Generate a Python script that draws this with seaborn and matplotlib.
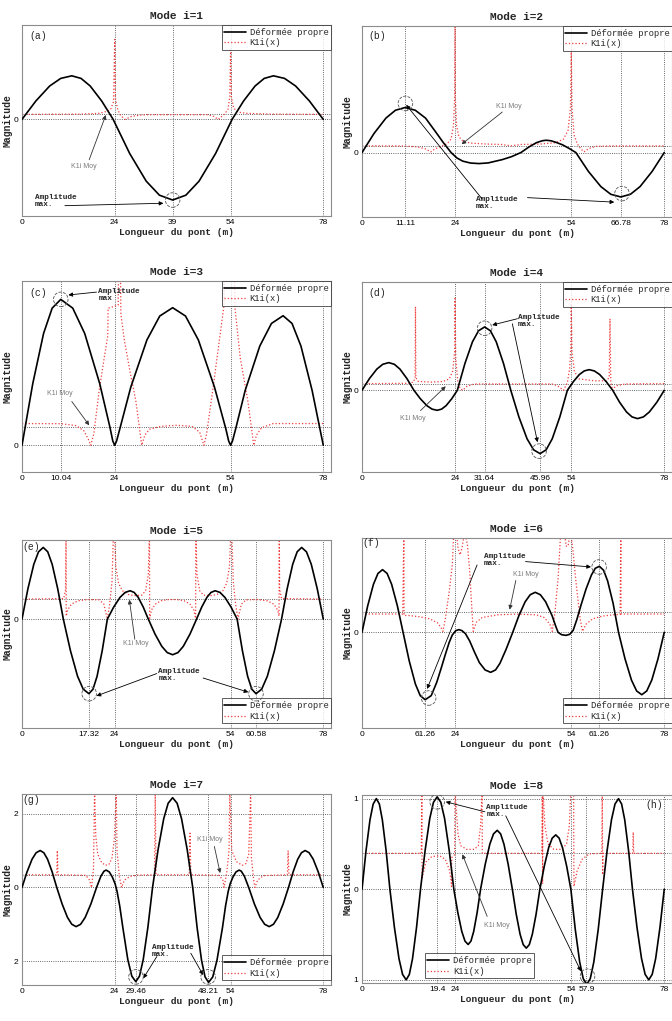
import numpy as np
import matplotlib
matplotlib.use('Agg')
import matplotlib.pyplot as plt
import seaborn as sns

# ---------------- data ----------------
# mode shapes (Déformée propre)
x_mode_a = [0, 3.59, 7.17, 10.03, 12.9, 15.28, 17.65, 20.63, 23.6, 27.88, 32.16, 35.58, 39.0, 42.42, 45.84,
            50.12, 54.4, 57.37, 60.35, 62.72, 65.1, 67.97, 70.83, 74.41, 78]
y_mode_a = [0, 0.228, 0.414, 0.508, 0.54, 0.508, 0.414, 0.228, 0, -0.423, -0.766, -0.94, -1.0, -0.94, -0.766,
            -0.423, 0, 0.228, 0.414, 0.508, 0.54, 0.508, 0.414, 0.228, 0]

x_mode_b = [0, 3.09, 6.18, 8.64, 11.11, 13.75, 16.39, 19.0, 21.0, 23.0, 24.5, 26.0, 28.0, 30.2, 32.6, 34.5,
            36.2, 38.6, 41.0, 43.0, 45.0, 46.5, 47.5, 48.8, 50.3, 51.8, 53.5, 55.2, 58.42, 61.64, 64.21,
            66.78, 69.27, 71.76, 74.88, 78]
y_mode_b = [0, 0.423, 0.766, 0.94, 1.0, 0.94, 0.766, 0.46, 0.22, 0, -0.12, -0.19, -0.232, -0.244, -0.229, -0.19,
            -0.156, -0.09, 0, 0.12, 0.22, 0.262, 0.274, 0.262, 0.22, 0.17, 0.09, 0, -0.417, -0.755, -0.926,
            -0.985, -0.926, -0.755, -0.417, 0]

x_mode_c = [0, 2.79, 5.58, 7.81, 10.04, 13.14, 16.24, 20.12, 22.8, 23.5, 24.0, 24.5, 25.2, 28.17, 32.34, 35.67,
            39.0, 42.33, 45.66, 49.83, 52.8, 53.5, 54.0, 54.5, 55.2, 57.78, 61.56, 64.58, 67.6, 69.91, 72.22,
            75.11, 78]
y_mode_c = [0, 0.423, 0.766, 0.94, 1.0, 0.94, 0.766, 0.423, 0.12, 0.03, 0, 0.03, 0.1, 0.399, 0.722, 0.886,
            0.943, 0.886, 0.722, 0.399, 0.11, 0.03, 0, 0.03, 0.1, 0.376, 0.68, 0.835, 0.888, 0.835, 0.68,
            0.376, 0]

x_mode_d = [0, 1.92, 3.83, 5.37, 6.9, 8.34, 9.79, 11.59, 13.4, 15.07, 16.73, 18.07, 19.4, 20.55, 21.71, 23.15,
            24.6, 26.56, 28.51, 30.08, 31.64, 33.14, 34.64, 36.52, 38.4, 40.5, 42.6, 44.28, 45.96, 47.52, 49.09,
            51.04, 53.0, 54.56, 56.11, 57.36, 58.6, 59.96, 61.31, 63.0, 64.7, 66.48, 68.26, 69.68, 71.1, 72.63,
            74.16, 76.08, 78]
y_mode_d = [0, 0.185, 0.335, 0.411, 0.437, 0.411, 0.335, 0.185, 0, -0.134, -0.242, -0.297, -0.316, -0.297,
            -0.242, -0.134, 0, 0.423, 0.766, 0.94, 1.0, 0.94, 0.766, 0.423, 0, -0.423, -0.766, -0.94, -1.0,
            -0.94, -0.766, -0.423, 0, 0.138, 0.25, 0.306, 0.326, 0.306, 0.25, 0.138, 0, -0.189, -0.342,
            -0.42, -0.447, -0.42, -0.342, -0.189, 0]

x_mode_e = [0, 1.53, 3.06, 4.28, 5.5, 6.66, 7.81, 9.25, 10.7, 12.54, 14.38, 15.85, 17.32, 18.38, 19.44, 20.77,
            22.1, 23.74, 25.38, 26.69, 28.0, 29.04, 30.09, 31.39, 32.7, 34.45, 36.2, 37.6, 39.0, 40.38, 41.75,
            43.48, 45.2, 46.53, 47.87, 48.93, 50.0, 51.27, 52.53, 54.12, 55.7, 57.06, 58.41, 59.5, 60.58, 62.05,
            63.52, 65.36, 67.2, 68.65, 70.09, 71.24, 72.4, 73.64, 74.89, 76.44, 78]
y_mode_e = [0, 0.406, 0.735, 0.902, 0.96, 0.902, 0.735, 0.406, 0, -0.423, -0.766, -0.94, -1.0, -0.94, -0.766,
            -0.423, 0, 0.161, 0.291, 0.357, 0.38, 0.357, 0.291, 0.161, 0, -0.202, -0.366, -0.449, -0.478,
            -0.449, -0.366, -0.202, 0, 0.161, 0.291, 0.357, 0.38, 0.357, 0.291, 0.161, 0, -0.423, -0.766,
            -0.94, -1.0, -0.94, -0.766, -0.423, 0, 0.406, 0.735, 0.902, 0.96, 0.902, 0.735, 0.406, 0]

x_mode_f = [0, 1.47, 2.95, 4.12, 5.3, 6.48, 7.65, 9.13, 10.6, 12.18, 13.77, 15.03, 16.3, 17.86, 19.3, 20.5,
            21.5, 22.5, 23.3, 24.2, 25.0, 25.8, 26.7, 27.8, 29.0, 30.3, 31.76, 33.2, 34.47, 35.6, 37.2, 38.9,
            40.51, 42.12, 43.41, 44.7, 46.03, 47.37, 49.03, 50.0, 50.6, 51.5, 52.6, 53.6, 54.5, 55.5, 56.5,
            57.8, 59.2, 60.2, 61.26, 62.36, 63.4, 64.8, 66.2, 67.87, 69.54, 70.87, 72.2, 73.49, 74.78, 76.39, 78]
y_mode_f = [0, 0.393, 0.712, 0.874, 0.93, 0.874, 0.712, 0.393, 0, -0.423, -0.766, -0.94, -1.0, -0.94, -0.74,
            -0.52, -0.33, -0.15, -0.04, 0.025, 0.04, 0.025, -0.02, -0.13, -0.29, -0.45, -0.558, -0.594, -0.558,
            -0.46, -0.25, 0, 0.251, 0.455, 0.558, 0.594, 0.558, 0.455, 0.251, 0.09, 0.0, -0.035, -0.045, -0.03,
            0.03, 0.2, 0.4, 0.64, 0.85, 0.95, 0.98, 0.92, 0.76, 0.43, 0, -0.392, -0.709, -0.87, -0.926, -0.87,
            -0.709, -0.392, 0]

x_mode_g = [0, 1.31, 2.61, 3.66, 4.7, 5.65, 6.61, 7.8, 9.0, 10.39, 11.78, 12.89, 14.0, 15.18, 16.35, 17.83,
            19.3, 20.41, 21.24, 21.8, 22.6, 23.4, 24.1, 24.6, 25.3, 26.1, 27.39, 28.43, 29.46, 30.42, 31.39,
            32.59, 33.8, 35.24, 36.69, 37.84, 39.0, 40.16, 41.31, 42.76, 44.2, 45.34, 46.48, 47.39, 48.3, 49.39,
            50.48, 51.9, 52.7, 53.4, 53.9, 54.6, 55.4, 56.2, 56.76, 57.59, 58.7, 60.17, 61.65, 62.82, 64.0,
            65.11, 66.22, 67.61, 69.0, 70.2, 71.39, 72.35, 73.3, 74.34, 75.39, 76.69, 78]
y_mode_g = [0, 0.423, 0.766, 0.94, 1.0, 0.94, 0.766, 0.423, 0, -0.448, -0.812, -0.996, -1.06, -0.996, -0.812,
            -0.448, 0, 0.302, 0.442, 0.47, 0.42, 0.28, 0.1, -0.1, -0.5, -1.08, -1.95, -2.40, -2.55, -2.40,
            -1.95, -1.08, 0, 1.03, 1.86, 2.28, 2.43, 2.28, 1.86, 1.03, 0, -1.09, -1.97, -2.42, -2.57, -2.42,
            -1.97, -1.09, -0.5, -0.1, 0.1, 0.28, 0.42, 0.47, 0.442, 0.302, 0, -0.448, -0.812, -0.996, -1.06,
            -0.996, -0.812, -0.448, 0, 0.423, 0.766, 0.94, 1.0, 0.94, 0.766, 0.423, 0]

x_mode_h = [0, 1.03, 2.06, 2.88, 3.7, 4.48, 5.25, 6.23, 7.2, 8.37, 9.54, 10.47, 11.4, 12.22, 13.04, 14.07,
            15.1, 16.3, 17.49, 18.44, 19.4, 20.35, 21.31, 22.5, 23.7, 24.73, 25.76, 26.58, 27.4, 28.11, 28.82,
            29.71, 30.6, 31.8, 32.99, 33.94, 34.9, 35.77, 36.63, 37.72, 38.8, 39.8, 40.8, 41.6, 42.4, 43.18,
            43.95, 44.93, 45.9, 47.04, 48.18, 49.09, 50.0, 50.87, 51.73, 52.82, 53.9, 55.04, 56.18, 57.09,
            58.0, 58.91, 59.82, 60.96, 62.1, 63.24, 64.38, 65.29, 66.2, 67.0, 67.8, 68.8, 69.8, 70.97, 72.14,
            73.07, 74.0, 74.89, 75.78, 76.89, 78]
y_mode_h = [0, 0.423, 0.766, 0.94, 1.0, 0.94, 0.766, 0.423, 0, -0.423, -0.766, -0.94, -1.0, -0.94, -0.766,
            -0.423, 0, 0.431, 0.781, 0.959, 1.02, 0.959, 0.781, 0.431, 0, -0.258, -0.467, -0.573, -0.61,
            -0.573, -0.467, -0.258, 0, 0.275, 0.498, 0.611, 0.65, 0.611, 0.498, 0.275, 0, -0.275, -0.498,
            -0.611, -0.65, -0.611, -0.498, -0.275, 0, 0.254, 0.46, 0.564, 0.60, 0.564, 0.46, 0.254, 0, -0.444,
            -0.804, -0.987, -1.05, -0.987, -0.804, -0.444, 0, 0.423, 0.766, 0.94, 1.0, 0.94, 0.766, 0.423, 0,
            -0.423, -0.766, -0.94, -1.0, -0.94, -0.766, -0.423, 0]

# K1i(x) curves, (x, value) pairs
k1i_a = [(0, 0.062), (15, 0.065), (20, 0.075), (22, 0.1), (23, 0.13), (23.7, 0.22), (24.0, 0.99), (24.2, 0.25),
         (24.8, 0.12), (25.5, 0.05), (26.7, 0.0), (28.5, 0.04), (32, 0.058), (48, 0.058), (49.5, 0.04),
         (50.8, 0.0), (52.3, 0.06), (53.3, 0.12), (53.8, 0.28), (54.0, 0.86), (54.2, 0.28), (54.8, 0.14),
         (56, 0.09), (58, 0.075), (65, 0.065), (78, 0.062)]
k1i_b = [(0, 0.15), (10, 0.148), (14, 0.13), (16.5, 0.08), (17.7, 0.015), (18.8, 0.08), (20.5, 0.14), (22, 0.2),
         (23.0, 0.3), (23.6, 0.6), (23.9, 1.2), (24.0, 2.9), (24.1, 1.2), (24.4, 0.6), (25.0, 0.35), (26, 0.26),
         (28, 0.21), (32, 0.19), (36, 0.18), (38.5, 0.15), (41, 0.18), (46, 0.19), (50, 0.22), (52, 0.3),
         (53.2, 0.5), (53.8, 1.0), (54.0, 2.27), (54.2, 1.0), (54.7, 0.4), (55.5, 0.2), (56.5, 0.08),
         (57.3, 0.015), (58.5, 0.09), (60.5, 0.14), (65, 0.148), (78, 0.148)]
k1i_c = [(0, 0.149), (10, 0.148), (14, 0.135), (16, 0.1), (17.2, 0.04), (17.8, 0.0), (18.6, 0.08), (20, 0.38),
         (21, 0.55), (22.2, 0.75), (22.3, 0.94), (24.9, 0.96), (25.0, 1.2), (25.5, 1.2), (25.6, 0.9), (26.5, 0.72),
         (28, 0.5), (29.5, 0.3), (30.5, 0.1), (31.0, 0.0), (31.8, 0.07), (33, 0.11), (36, 0.13), (40, 0.137),
         (44, 0.13), (46, 0.09), (47.1, 0.0), (47.8, 0.08), (49.5, 0.4), (51, 0.7), (52.3, 0.96), (52.4, 1.2),
         (55.0, 1.2), (55.1, 0.95), (56.5, 0.6), (58.5, 0.3), (59.5, 0.1), (60.0, 0.0), (60.7, 0.07),
         (62, 0.12), (65, 0.149), (78, 0.149)]
k1i_d = [(0, 0.105), (12, 0.11), (13.3, 0.13), (13.7, 0.2), (13.8, 1.32), (13.9, 0.2), (14.5, 0.14), (18, 0.13),
         (21, 0.14), (22.5, 0.18), (23.4, 0.3), (23.9, 0.6), (24.0, 1.45), (24.2, 0.5), (24.7, 0.15), (25.3, 0.03),
         (26, 0.0), (27, 0.06), (29, 0.1), (49, 0.1), (50.5, 0.07), (52, 0.0), (53, 0.12), (53.6, 0.35),
         (53.9, 0.7), (54.0, 1.35), (54.2, 0.6), (54.8, 0.3), (56, 0.18), (60, 0.15), (63, 0.15), (63.8, 0.2),
         (64.0, 1.13), (64.2, 0.15), (64.6, 0.0), (65.5, 0.07), (68, 0.1), (78, 0.105)]
k1i_e = [(0, 0.268), (10.8, 0.275), (11.3, 0.4), (11.4, 1.2), (11.45, 0.04), (11.8, 0.12), (12.8, 0.2),
         (14.5, 0.245), (17, 0.262), (20, 0.258), (21.2, 0.2), (22.1, 0.0), (22.7, 0.2), (23.3, 0.5), (23.7, 1.2),
         (23.9, 1.2), (24.3, 0.7), (25, 0.48), (26, 0.38), (27.5, 0.33), (29, 0.315), (31, 0.32), (32, 0.38),
         (32.7, 0.6), (33.0, 1.2), (33.05, 0.01), (33.5, 0.12), (34.5, 0.2), (36, 0.245), (38, 0.262),
         (40, 0.262), (42, 0.245), (43.5, 0.2), (44.5, 0.12), (44.95, 0.01), (45.0, 1.2), (45.3, 0.6), (46, 0.38),
         (47, 0.32), (49, 0.315), (50.5, 0.33), (52, 0.38), (53, 0.48), (53.7, 0.7), (54.1, 1.2), (54.3, 1.2),
         (54.7, 0.5), (55.3, 0.2), (55.9, 0.0), (56.8, 0.2), (58, 0.258), (61, 0.262), (63.5, 0.245),
         (65.2, 0.2), (66.2, 0.12), (66.55, 0.04), (66.6, 1.2), (66.7, 0.4), (67.2, 0.275), (78, 0.268)]
k1i_f = [(0, 0.272), (10.5, 0.272), (10.8, 1.5), (10.85, 0.25), (12, 0.25), (15, 0.23), (17.5, 0.2),
         (19.5, 0.14), (20.5, 0.06), (20.9, 0.015), (21.5, 0.2), (22.5, 0.6), (23.3, 1.0), (23.7, 1.5),
         (24.3, 1.5), (24.8, 1.25), (25.3, 1.15), (25.8, 1.25), (26.5, 1.5), (27.2, 1.3), (27.8, 0.9),
         (28.4, 0.3), (28.7, 0.015), (29.5, 0.15), (31, 0.22), (35, 0.26), (40, 0.27), (45, 0.26), (47, 0.22),
         (48.5, 0.12), (49.1, 0.015), (49.8, 0.3), (50.6, 0.8), (51.3, 1.5), (52.2, 1.5), (52.7, 1.28),
         (53.2, 1.28), (53.7, 1.5), (54.3, 1.3), (55.3, 0.7), (56.3, 0.2), (56.9, 0.015), (57.8, 0.12),
         (59.5, 0.2), (62, 0.24), (65, 0.262), (66.6, 0.265), (66.8, 1.5), (66.85, 0.272), (78, 0.272)]
k1i_g = [(0, 0.344), (9.0, 0.344), (9.15, 1.0), (9.3, 0.344), (16.5, 0.33), (17.5, 0.2), (18.0, 0.0),
         (18.5, 0.5), (18.8, 2.6), (19.1, 1.4), (19.6, 0.9), (20.5, 0.7), (21.5, 0.6), (22.5, 0.62), (23.3, 0.8),
         (23.9, 1.3), (24.4, 2.6), (24.6, 1.0), (25.2, 0.3), (25.8, 0.0), (26.5, 0.2), (28, 0.3), (30, 0.335),
         (34.3, 0.344), (34.5, 2.6), (34.7, 0.344), (43.3, 0.344), (43.5, 1.47), (43.7, 0.344), (51, 0.33),
         (52.0, 0.2), (52.3, 0.0), (53.0, 0.4), (53.6, 1.0), (53.8, 2.6), (54.3, 1.0), (55.5, 0.7), (57, 0.6),
         (58, 0.65), (58.7, 0.9), (59.2, 2.6), (59.4, 0.8), (60.0, 0.2), (60.3, 0.0), (61, 0.2), (62.5, 0.32),
         (68.7, 0.344), (68.9, 1.0), (69.1, 0.344), (78, 0.344)]
k1i_h = [(0, 0.396), (15.3, 0.396), (15.45, 1.1), (15.5, 0.12), (16.5, 0.3), (18, 0.36), (20, 0.37),
         (21.5, 0.33), (22.5, 0.22), (23.0, 0.1), (23.1, 0.03), (23.15, 0.35), (23.9, 0.38), (24.0, 1.1),
         (24.3, 0.9), (24.8, 0.6), (25.5, 0.48), (27, 0.44), (29, 0.44), (30, 0.48), (30.6, 0.7), (31.0, 1.1),
         (31.05, 0.396), (46.4, 0.396), (46.55, 1.1), (46.6, 0.06), (46.7, 1.1), (47.2, 0.7), (48, 0.5),
         (49.5, 0.44), (51.5, 0.44), (52.8, 0.5), (53.5, 0.7), (53.9, 1.1), (54.6, 1.1), (54.7, 0.03),
         (55.5, 0.2), (56.8, 0.33), (58.6, 0.39), (61.9, 0.396), (62.0, 1.1), (62.1, 0.16), (62.2, 0.396),
         (69.9, 0.396), (70.0, 0.63), (70.1, 0.396), (78, 0.396)]

# mean K1i level (K1i Moy)
k1i_moy = {'a': 0.062, 'b': 0.148, 'c': 0.126, 'd': 0.105, 'e': 0.268, 'f': 0.30, 'g': 0.344, 'h': 0.396}

# tick positions and labels
xticks_a = [0, 24, 39, 54, 78]
xticks_b = [0, 11.11, 24, 54, 66.78, 78]
xticks_c = [0, 10.04, 24, 54, 78]
xticks_d = [0, 24, 31.64, 45.96, 54, 78]
xticks_e = [0, 17.32, 24, 54, 60.58, 78]
xticks_f = [0, 16.2, 24, 54, 61.26, 78]
xlabels_f = ['0', '61.26', '24', '54', '61.26', '78']
xticks_g = [0, 24, 29.46, 48.21, 54, 78]
xticks_h = [0, 19.4, 24, 54, 57.9, 78]
yticks_g = [-2, 0, 2]
ylabels_g = ['2', '0', '2']
yticks_h = [-1, 0, 1]
ylabels_h = ['1', '0', '1']

# ---------------- layout ----------------
W, H = 672, 1021
panels = [
    dict(k='a', mode=(x_mode_a, y_mode_a), k1i=k1i_a, xt=xticks_a, xl=None, yt=[0], yl=['0'],
         ylim=(-1.198, 1.17), box=(22, 25, 331, 216), leg=('upper right', (1, 1)),
         amp=(3.4, -1.01), amp_txt='Amplitude\nmax.', arrows=[((11.1, -1.07), (36.6, -1.04))],
         circ=[(39, -1.0)], moy=(16.1, -0.58), moy_arr=((17.4, -0.50), (21.7, 0.054)), tag=(1.8, 1.03, 'left')),
    dict(k='b', mode=(x_mode_b, y_mode_b), k1i=k1i_b, xt=xticks_b, xl=None, yt=[0], yl=['0'],
         ylim=(-1.43, 2.81), box=(362, 26, 672, 217), leg=('upper right', (1, 1)),
         amp=(29.3, -1.12), amp_txt='Amplitude\nmax.',
         arrows=[((31.0, -1.03), (11.4, 1.06)), ((42.7, -1.0), (65.1, -1.1))],
         circ=[(11.2, 1.09), (67.1, -0.91)], moy=(37.9, 1.03), moy_arr=((36.2, 0.90), (25.7, 0.185)),
         tag=(1.7, 2.59, 'left')),
    dict(k='c', mode=(x_mode_c, y_mode_c), k1i=k1i_c, xt=xticks_c, xl=None, yt=[0], yl=['0'],
         ylim=(-0.183, 1.126), box=(22, 281, 331, 472), leg=('upper right', (1, 1)),
         amp=(19.8, 1.032), amp_txt='Amplitude\nmax', arrows=[((19.3, 1.05), (12.0, 1.03))],
         circ=[(10.04, 1.0)], moy=(9.8, 0.355), moy_arr=((12.9, 0.30), (17.4, 0.137)), tag=(1.9, 1.046, 'left')),
    dict(k='d', mode=(x_mode_d, y_mode_d), k1i=k1i_d, xt=xticks_d, xl=None, yt=[0], yl=['0'],
         ylim=(-1.29, 1.71), box=(362, 282, 672, 472), leg=('upper right', (1, 1)),
         amp=(40.3, 1.095), amp_txt='Amplitude\nmax.',
         arrows=[((40.1, 1.13), (33.6, 1.03)), ((38.8, 1.05), (45.3, -0.82))],
         circ=[(31.64, 0.98), (45.7, -0.96)], moy=(13.1, -0.44), moy_arr=((15.1, -0.32), (21.6, 0.063)),
         tag=(1.7, 1.54, 'left')),
    dict(k='e', mode=(x_mode_e, y_mode_e), k1i=k1i_e, xt=xticks_e, xl=None, yt=[0], yl=['0'],
         ylim=(-1.46, 1.06), box=(22, 540, 331, 728), leg=('lower right', (1, 0.025)),
         amp=(35.3, -0.745), amp_txt='Amplitude\nmax.',
         arrows=[((34.9, -0.73), (19.3, -1.03)), ((46.9, -0.79), (58.6, -0.98))],
         circ=[(17.4, -1.0), (60.58, -1.0)], moy=(29.5, -0.33), moy_arr=((29.2, -0.27), (27.8, 0.26)),
         tag=(0.2, 0.97, 'left')),
    dict(k='f', mode=(x_mode_f, y_mode_f), k1i=k1i_f, xt=xticks_f, xl=xlabels_f, yt=[0], yl=['0'],
         ylim=(-1.42, 1.40), box=(362, 538, 672, 728), leg=('lower right', (1, 0.025)),
         amp=(31.5, 1.08), amp_txt='Amplitude\nmax.',
         arrows=[((42.2, 1.05), (59.1, 0.97)), ((29.7, 1.0), (16.8, -0.84))],
         circ=[(61.2, 0.97), (17.2, -0.975)], moy=(42.4, 0.856), moy_arr=((39.7, 0.77), (38.1, 0.337)),
         tag=(0.2, 1.33, 'left')),
    dict(k='g', mode=(x_mode_g, y_mode_g), k1i=k1i_g, xt=xticks_g, xl=None, yt=yticks_g, yl=ylabels_g,
         ylim=(-2.64, 2.53), box=(22, 794, 331, 985), leg=('lower right', (1, 0.025)),
         amp=(33.6, -1.71), amp_txt='Amplitude\nmax.',
         arrows=[((34.9, -1.87), (31.4, -2.46)), ((43.7, -1.78), (46.9, -2.37))],
         circ=[(29.5, -2.42), (48.2, -2.42)], moy=(48.7, 1.29), moy_arr=((49.8, 1.11), (51.3, 0.39)),
         tag=(0.2, 2.38, 'left')),
    dict(k='h', mode=(x_mode_h, y_mode_h), k1i=k1i_h, xt=xticks_h, xl=None, yt=yticks_h, yl=ylabels_h,
         ylim=(-1.035, 1.04), box=(362, 795, 672, 983), leg=('lower left', (16.2 / 80, 0.025)),
         amp=(32.1, 0.866), amp_txt='Amplitude\nmax.',
         arrows=[((31.7, 0.855), (21.6, 0.965)), ((37.1, 0.81), (56.5, -0.906))],
         circ=[(19.4, 0.965), (58.2, -0.96)], moy=(34.7, -0.40), moy_arr=((32.3, -0.30), (25.9, 0.385)),
         tag=(77.8, 0.93, 'right')),
]

sns.set_theme(style='white')
MONO = ['Liberation Mono', 'DejaVu Sans Mono']
SANS = ['Liberation Sans', 'DejaVu Sans']
plt.rcParams['font.family'] = MONO
RED = '#f03c3c'
GRIDC = '#333333'

fig = plt.figure(figsize=(W / 100, H / 100), dpi=100)

for i, p in enumerate(panels):
    l, t, r, b = p['box']
    ax = fig.add_axes([l / W, 1 - b / H, (r - l) / W, (b - t) / H])
    ax.set_facecolor('white')

    xm, ym = p['mode']
    kx, ky = np.array(p['k1i']).T
    sns.lineplot(x=np.array(xm), y=np.array(ym), ax=ax, sort=False, estimator=None,
                 color='black', lw=1.2, label='Déformée propre', zorder=3)
    sns.lineplot(x=kx, y=ky, ax=ax, sort=False, estimator=None,
                 color=RED, lw=0.9, linestyle=':', label='K1i(x)', zorder=2)
    ax.axhline(k1i_moy[p['k']], color=GRIDC, lw=0.6, ls=':', zorder=1)

    ax.set_xlim(0, 80)
    ax.set_ylim(*p['ylim'])
    ax.set_xticks(p['xt'])
    ax.set_xticklabels(p['xl'] if p['xl'] else [f'{v:g}' for v in p['xt']])
    ax.set_yticks(p['yt'])
    ax.set_yticklabels(p['yl'])
    ax.grid(True, color=GRIDC, ls=':', lw=0.6)
    ax.set_axisbelow(True)
    ax.tick_params(axis='both', direction='in', length=2, pad=2.5, labelsize=6, colors='black')
    for lab in ax.get_xticklabels() + ax.get_yticklabels():
        lab.set_family(SANS)
    for s in ax.spines.values():
        s.set_color('#8c8c8c')
        s.set_linewidth(0.8)

    ax.set_title(f'Mode i={i + 1}', fontsize=8, fontweight='bold', pad=4)
    ax.set_xlabel('Longueur du pont (m)', fontsize=6.8, fontweight='bold', labelpad=1)
    ax.set_ylabel('Magnitude', fontsize=7, fontweight='bold', labelpad=1)

    loc, anchor = p['leg']
    leg = ax.legend(loc=loc, bbox_to_anchor=anchor, fontsize=6.3, frameon=True, fancybox=False,
                    borderaxespad=0, borderpad=0.3, labelspacing=0.2, handlelength=2.5, handletextpad=0.4)
    leg.get_frame().set_edgecolor('#333333')
    leg.get_frame().set_linewidth(0.7)
    leg.set_zorder(6)

    # annotations
    tx, ty, tha = p['tag']
    ax.text(tx, ty, f"({p['k']})", fontsize=7, ha=tha, va='center', zorder=7)
    ax.text(p['amp'][0], p['amp'][1], p['amp_txt'], fontsize=5.6, fontweight='bold',
            ha='left', va='center', linespacing=1.0, zorder=7)
    for start, end in p['arrows']:
        ax.annotate('', xy=end, xytext=start,
                    arrowprops=dict(arrowstyle='-|>', color='black', lw=0.6, mutation_scale=6,
                                    shrinkA=0, shrinkB=0), zorder=7)
    cx, cy = zip(*p['circ'])
    ax.scatter(cx, cy, s=110, facecolors='none', edgecolors='#555555', linewidths=0.6,
               linestyles='--', zorder=7)
    ax.text(p['moy'][0], p['moy'][1], 'K1i Moy', fontsize=5, color='#7a7a7a',
            family=SANS, ha='center', va='center', zorder=7)
    s0, s1 = p['moy_arr']
    ax.annotate('', xy=s1, xytext=s0,
                arrowprops=dict(arrowstyle='-|>', color='#333333', lw=0.6, mutation_scale=6,
                                shrinkA=0, shrinkB=0), zorder=7)

fig.savefig('out.png', dpi=100)
